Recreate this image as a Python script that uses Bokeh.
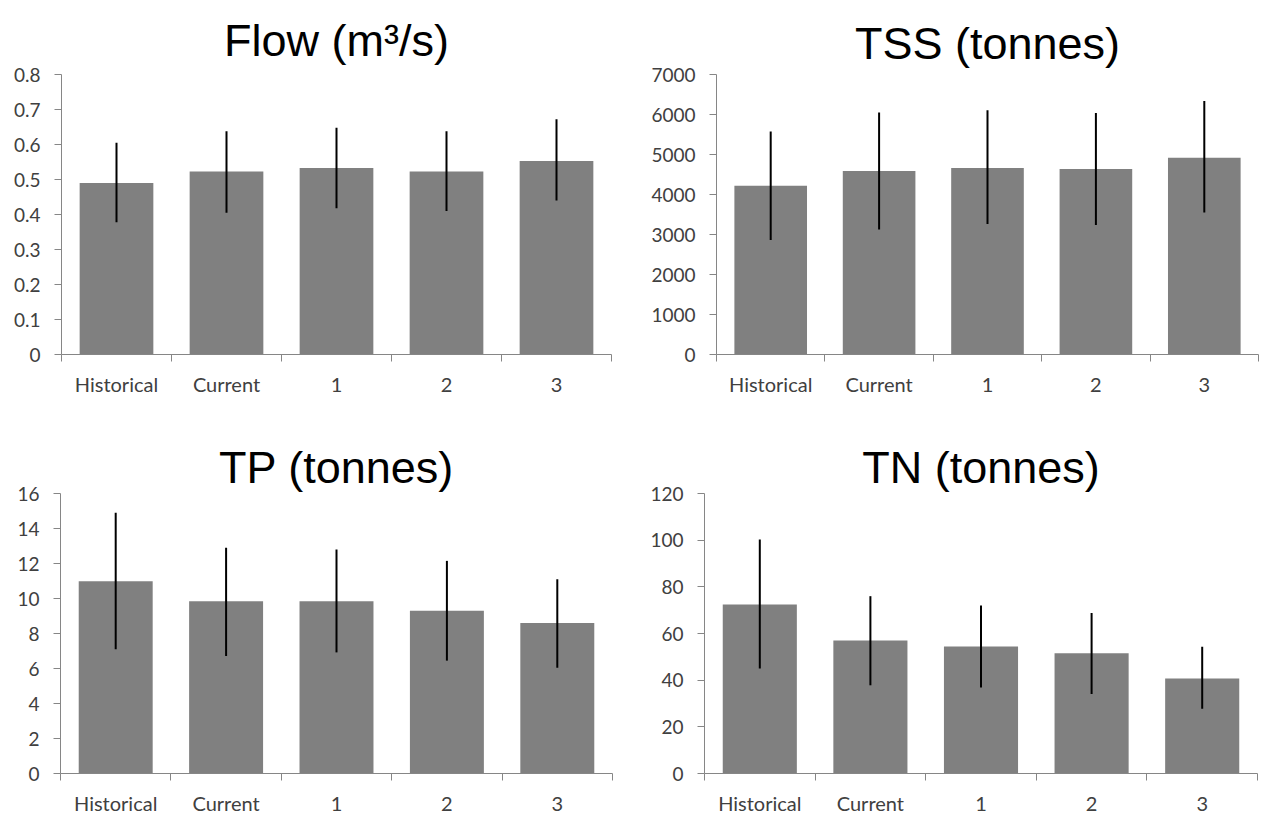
from bokeh.plotting import figure
from bokeh.layouts import column, row
from bokeh.models import Range1d, FixedTicker, LinearAxis
from bokeh.embed import file_html
from bokeh.resources import INLINE

categories = ["Historical", "Current", "1", "2", "3"]

flow_mean = [0.490, 0.523, 0.533, 0.523, 0.553]
flow_lo = [0.378, 0.405, 0.418, 0.410, 0.440]
flow_hi = [0.605, 0.638, 0.648, 0.638, 0.672]
flow_ticks = [0, 0.1, 0.2, 0.3, 0.4, 0.5, 0.6, 0.7, 0.8]

tss_mean = [4220, 4585, 4660, 4635, 4920]
tss_lo = [2865, 3125, 3260, 3235, 3550]
tss_hi = [5575, 6050, 6105, 6040, 6335]
tss_ticks = [0, 1000, 2000, 3000, 4000, 5000, 6000, 7000]

tp_mean = [10.98, 9.85, 9.85, 9.30, 8.60]
tp_lo = [7.10, 6.72, 6.92, 6.45, 6.05]
tp_hi = [14.90, 12.90, 12.80, 12.15, 11.10]
tp_ticks = [0, 2, 4, 6, 8, 10, 12, 14, 16]

tn_mean = [72.4, 57.0, 54.4, 51.5, 40.7]
tn_lo = [45.0, 37.8, 36.9, 34.1, 27.8]
tn_hi = [100.3, 76.0, 72.0, 68.8, 54.3]
tn_ticks = [0, 20, 40, 60, 80, 100, 120]

TICK_FONT = "Lato"
TITLE_FONT = "Liberation Sans"
AXIS_COLOR = "#868686"
LABEL_COLOR = "#404040"
BAR_COLOR = "#808080"


def panel(title, mean, lo, hi, yticks, width, height, left, right, top, bottom, standoff):
    xs = [i + 0.5 for i in range(len(categories))]
    p = figure(width=width, height=height, output_backend="svg", toolbar_location=None,
               x_range=Range1d(0, len(categories)), y_range=Range1d(yticks[0], yticks[-1]),
               min_border_left=left, min_border_right=right, min_border_top=top,
               min_border_bottom=bottom, x_axis_type=None, y_axis_type=None)
    p.title.text = title
    p.title.align = "center"
    p.title.text_font = TITLE_FONT
    p.title.text_font_size = "45px"
    p.title.text_font_style = "normal"
    p.title.text_color = "#000000"
    p.title.standoff = standoff
    p.outline_line_color = None
    p.xgrid.visible = False
    p.ygrid.visible = False

    p.vbar(x=xs, top=mean, width=0.67, bottom=0, fill_color=BAR_COLOR, line_color=None)
    p.segment(x0=xs, y0=lo, x1=xs, y1=hi, line_color="#000000", line_width=2)

    xaxis = LinearAxis(ticker=FixedTicker(ticks=xs, minor_ticks=list(range(len(categories) + 1))))
    xaxis.major_label_overrides = {x: c for x, c in zip(xs, categories)}
    xaxis.major_tick_out = 0
    xaxis.major_tick_in = 0
    xaxis.minor_tick_out = 7
    xaxis.minor_tick_in = 0
    xaxis.minor_tick_line_color = AXIS_COLOR
    xaxis.axis_line_color = AXIS_COLOR
    xaxis.major_label_text_font = TICK_FONT
    xaxis.major_label_text_font_size = "20px"
    xaxis.major_label_text_color = LABEL_COLOR
    xaxis.major_label_standoff = 10
    p.add_layout(xaxis, "below")

    yaxis = LinearAxis(ticker=FixedTicker(ticks=yticks))
    yaxis.major_label_overrides = {0: "0"}
    yaxis.major_tick_out = 7
    yaxis.major_tick_in = 0
    yaxis.minor_tick_out = 0
    yaxis.minor_tick_in = 0
    yaxis.major_tick_line_color = AXIS_COLOR
    yaxis.axis_line_color = AXIS_COLOR
    yaxis.major_label_text_font = TICK_FONT
    yaxis.major_label_text_font_size = "19px"
    yaxis.major_label_text_color = LABEL_COLOR
    yaxis.major_label_standoff = 14
    p.add_layout(yaxis, "left")
    return p


p1 = panel("Flow (m³/s)", flow_mean, flow_lo, flow_hi, flow_ticks, 630, 410, 61, 19, 74, 56, 18)
p2 = panel("TSS (tonnes)", tss_mean, tss_lo, tss_hi, tss_ticks, 631, 410, 86, 3, 63, 56, 12)
p3 = panel("TP (tonnes)", tp_mean, tp_lo, tp_hi, tp_ticks, 630, 410, 60, 18, 80, 47, 2)
p4 = panel("TN (tonnes)", tn_mean, tn_lo, tn_hi, tn_ticks, 631, 410, 74, 4, 83, 43, 2)

layout = column(row(p1, p2), row(p3, p4))

with open("out.html", "w") as f:
    f.write(file_html(layout, INLINE))
